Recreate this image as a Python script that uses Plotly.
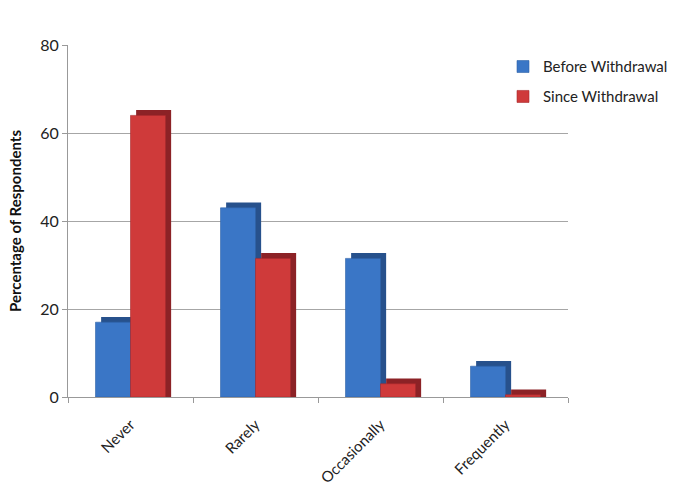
import plotly.graph_objects as go

categories = ["Never", "Rarely", "Occasionally", "Frequently"]
before = [17, 43, 31.5, 7]
since = [64, 31.5, 3, 0.5]
series_names = ["Before Withdrawal", "Since Withdrawal"]
y_ticks = [0, 20, 40, 60, 80]

BLUE = "#3a76c6"
BLUE_DARK = "#27518c"
RED = "#cf3a3a"
RED_DARK = "#8c2226"
FONT = "Lato"

W = 0.28
depth_dx = 0.045
depth_dy = 1.2

fig = go.Figure()
# depth (pseudo-3D) layers: side and top faces drawn behind the front faces
for vals, off, col in [(before, -W, BLUE_DARK), (since, 0.0, RED_DARK)]:
    fig.add_trace(go.Bar(x=categories, y=[v + depth_dy for v in vals],
                         offset=off + depth_dx, width=W, marker_color=col,
                         marker_line_width=0, showlegend=False, hoverinfo="skip"))
fig.add_trace(go.Bar(x=categories, y=before, name=series_names[0], offset=-W, width=W,
                     marker=dict(color=BLUE, line=dict(color="#2f63a8", width=0.6)),
                     legend="legend"))
fig.add_trace(go.Bar(x=categories, y=since, name=series_names[1], offset=0.0, width=W,
                     marker=dict(color=RED, line=dict(color="#a82a2d", width=0.6)),
                     legend="legend2"))

fig.update_layout(
    width=685, height=500,
    margin=dict(l=68, r=117, t=45, b=103, autoexpand=False),
    barmode="overlay",
    paper_bgcolor="white", plot_bgcolor="white",
    font=dict(family=FONT, size=15, color="#222"),
    legend=dict(x=0.87, y=0.985, xanchor="left", yanchor="top",
                font=dict(family=FONT, size=15, color="#222"), bgcolor="rgba(0,0,0,0)",
                itemwidth=30),
    legend2=dict(x=0.87, y=0.9, xanchor="left", yanchor="top",
                 font=dict(family=FONT, size=15, color="#222"), bgcolor="rgba(0,0,0,0)",
                 itemwidth=30),
    showlegend=True,
)
fig.update_xaxes(tickangle=-45, tickson="boundaries", ticks="outside", ticklen=5,
                 tickcolor="#999", showline=True, linecolor="#999", linewidth=1,
                 ticklabelstandoff=12,
                 tickfont=dict(family=FONT, size=15, color="#222"))
fig.update_yaxes(range=[0, 80], tickvals=y_ticks, ticks="outside", ticklen=5, tickcolor="#999",
                 showline=True, linecolor="#999", linewidth=1, showgrid=True,
                 gridcolor="#a6a6a6", gridwidth=1, zeroline=False,
                 tickfont=dict(family=FONT, size=16, color="#222"),
                 title=dict(text="<b>Percentage of Respondents</b>", standoff=14,
                            font=dict(family=FONT, size=15, color="#111")))

fig.write_html("out.html", config={"displayModeBar": False},
               post_script="document.body.style.margin='0';")
